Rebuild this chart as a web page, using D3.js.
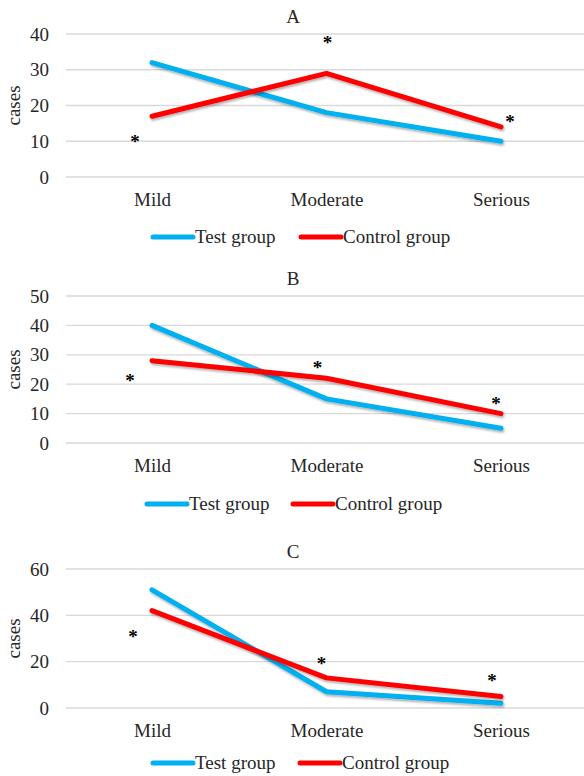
<!DOCTYPE html>
<html>
<head>
    <title>Cases by severity</title>
    <script src="https://d3js.org/d3.v7.min.js"></script>
    <style>
        body { margin: 0; background: #fff; }
        svg, svg text { font-family: "Liberation Serif", "DejaVu Serif", "Times New Roman", serif !important; }
    </style>
</head>
<body>
    <svg id="chart"></svg>
    <script>
        // data
        const categories = ["Mild", "Moderate", "Serious"];
        const seriesNames = ["Test group", "Control group"];

        const testA = [32, 18, 10];
        const controlA = [17, 29, 14];
        const ticksA = [0, 10, 20, 30, 40];
        const starsA = [11, 38.5, 16.5];

        const testB = [40, 15, 5];
        const controlB = [28, 22, 10];
        const ticksB = [0, 10, 20, 30, 40, 50];
        const starsB = [22.4, 27, 14.6];

        const testC = [51, 7, 2];
        const controlC = [42, 13, 5];
        const ticksC = [0, 20, 40, 60];
        const starsC = [32.4, 20.7, 13.4];

        const width = 584, height = 776;
        const colors = ["#00b0f0", "#ff0000"];

        const svg = d3.select("#chart")
            .attr("width", width)
            .attr("height", height);

        const defs = svg.append("defs");
        defs.append("filter")
            .attr("id", "shadow")
            .attr("x", "-10%").attr("y", "-10%")
            .attr("width", "120%").attr("height", "140%")
            .append("feDropShadow")
            .attr("dx", 1).attr("dy", 2)
            .attr("stdDeviation", 1.2)
            .attr("flood-color", "#000")
            .attr("flood-opacity", 0.3);

        // the x positions are shared by all three panels
        const x = d3.scalePoint()
            .domain(categories)
            .range([152, 501]);

        const panels = [
            { title: "A", top: 34, bottom: 177, ticks: ticksA, series: [testA, controlA], stars: starsA,
              starDx: [-17, 1, 9], legendY: 243, legendX: [153, 301] },
            { title: "B", top: 296, bottom: 443, ticks: ticksB, series: [testB, controlB], stars: starsB,
              starDx: [-22, -9, -5], legendY: 510, legendX: [147, 293] },
            { title: "C", top: 569, bottom: 708, ticks: ticksC, series: [testC, controlC], stars: starsC,
              starDx: [-19, -5, -9], legendY: 769, legendX: [153, 300] }
        ];

        panels.forEach(p => drawPanel(p));

        function drawPanel(p) {
            const g = svg.append("g");
            const y = d3.scaleLinear()
                .domain([0, d3.max(p.ticks)])
                .range([p.bottom, p.top]);

            // gridlines
            g.selectAll(".grid")
                .data(p.ticks)
                .join("line")
                .attr("x1", 66).attr("x2", width)
                .attr("y1", d => y(d)).attr("y2", d => y(d))
                .attr("stroke", "#d9d9d9")
                .attr("stroke-width", 1.3);

            // y axis labels
            const yAxis = d3.axisLeft(y).tickValues(p.ticks).tickSize(0).tickPadding(0);
            g.append("g")
                .attr("transform", "translate(49,0)")
                .call(yAxis)
                .attr("font-family", null)
                .attr("font-size", 19)
                .call(a => a.select(".domain").remove())
                .selectAll("text")
                .attr("fill", "#262626");

            // x axis labels
            const xAxis = d3.axisBottom(x).tickSize(0).tickPadding(0);
            g.append("g")
                .attr("transform", `translate(0,${p.bottom})`)
                .call(xAxis)
                .attr("font-family", null)
                .attr("font-size", 19)
                .call(a => a.select(".domain").remove())
                .selectAll("text")
                .attr("y", 29)
                .attr("dy", 0)
                .attr("fill", "#262626");

            // title
            g.append("text")
                .attr("x", 293)
                .attr("y", p.top - 11)
                .attr("text-anchor", "middle")
                .attr("font-size", 19)
                .attr("fill", "#262626")
                .text(p.title);

            // y axis title
            g.append("text")
                .attr("transform", `translate(20,${(p.top + p.bottom) / 2}) rotate(-90)`)
                .attr("text-anchor", "middle")
                .attr("font-size", 19)
                .attr("fill", "#262626")
                .text("cases");

            // lines
            const line = d3.line()
                .x((d, i) => x(categories[i]))
                .y(d => y(d));

            g.selectAll(".series")
                .data(p.series)
                .join("path")
                .attr("d", d => line(d))
                .attr("fill", "none")
                .attr("stroke", (d, i) => colors[i])
                .attr("stroke-width", 5)
                .attr("stroke-linecap", "round")
                .attr("stroke-linejoin", "round")
                .attr("filter", "url(#shadow)");

            // significance marks
            g.selectAll(".star")
                .data(p.stars)
                .join("text")
                .attr("x", (d, i) => x(categories[i]) + p.starDx[i])
                .attr("y", d => y(d) + 10)
                .attr("text-anchor", "middle")
                .attr("font-size", 19)
                .attr("font-weight", "bold")
                .attr("fill", "#000")
                .text("*");

            // legend
            const leg = g.selectAll(".legend")
                .data(seriesNames)
                .join("g")
                .attr("transform", (d, i) => `translate(${p.legendX[i]},${p.legendY})`);
            leg.append("line")
                .attr("x1", 0).attr("x2", 40)
                .attr("y1", -6).attr("y2", -6)
                .attr("stroke", (d, i) => colors[i])
                .attr("stroke-width", 5)
                .attr("stroke-linecap", "round");
            leg.append("text")
                .attr("x", 42)
                .attr("font-size", 19)
                .attr("fill", "#262626")
                .text(d => d);
        }
    </script>
</body>
</html>
